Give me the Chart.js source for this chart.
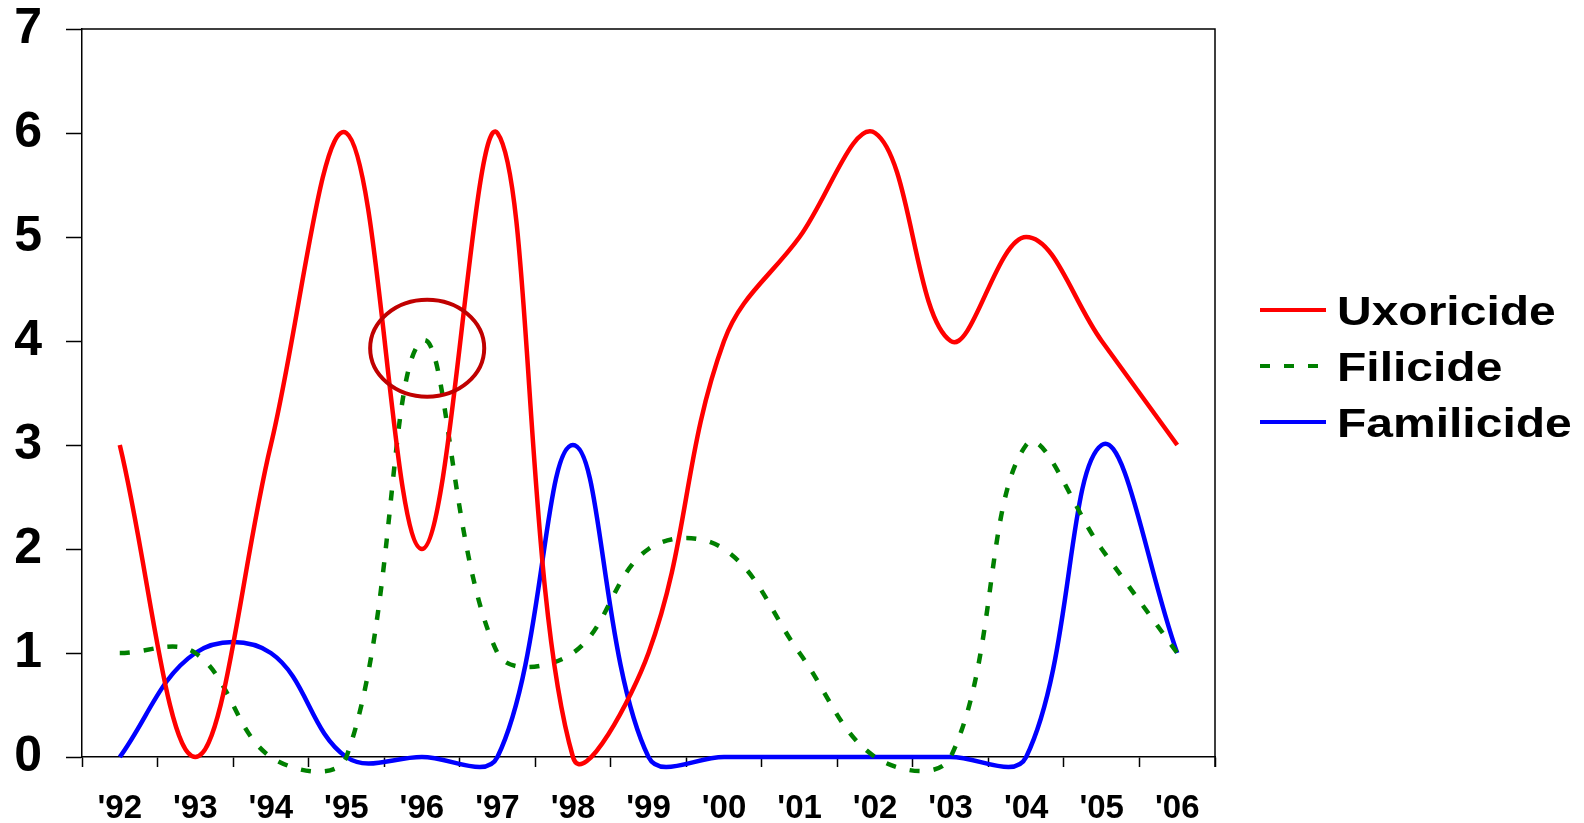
<!DOCTYPE html>
<html>
<head>
<meta charset="utf-8">
<script src="https://cdn.jsdelivr.net/npm/chart.js@4.4.0/dist/chart.umd.min.js"></script>
<style>
  html, body { margin: 0; padding: 0; background: #ffffff; }
  #wrap { width: 1584px; height: 823px; position: relative; }
</style>
</head>
<body>
<div id="wrap"><canvas id="c" width="1584" height="823"></canvas></div>
<script>
// ---- data ----
const years = ["'92", "'93", "'94", "'95", "'96", "'97", "'98", "'99", "'00", "'01", "'02", "'03", "'04", "'05", "'06"];
const uxoricide  = [3, 0, 3, 6, 2, 6, 0, 1, 4, 5, 6, 4, 5, 4, 3];
const filicide   = [1, 1, 0, 0, 4, 1, 1, 2, 2, 1, 0, 0, 3, 2, 1];
const familicide = [0, 1, 1, 0, 0, 0, 3, 0, 0, 0, 0, 0, 0, 3, 1];
const seriesNames = ["Uxoricide", "Filicide", "Familicide"];
const yTicks = [0, 1, 2, 3, 4, 5, 6, 7];
// highlighted region (category index, value) and its radii in data units
const highlight = { x: 4.07, y: 3.93, rx: 0.755, ry: 0.466 };

const FONT = "'Liberation Sans', Arial, sans-serif";

const frameAndLegend = {
  id: 'frameAndLegend',
  afterDatasetsDraw(chart) {
    const ctx = chart.ctx;
    const a = chart.chartArea;
    ctx.save();
    // plot frame (top & right)
    ctx.strokeStyle = '#000';
    ctx.lineWidth = 1.5;
    ctx.beginPath();
    ctx.moveTo(a.left, a.top);
    ctx.lineTo(a.right, a.top);
    ctx.lineTo(a.right, a.bottom + 10);
    ctx.stroke();
    // highlight ellipse
    const xs = chart.scales.x, ys = chart.scales.y;
    const cx = xs.getPixelForValue(highlight.x);
    const cy = ys.getPixelForValue(highlight.y);
    const rx = Math.abs(xs.getPixelForValue(highlight.x + highlight.rx) - cx);
    const ry = Math.abs(ys.getPixelForValue(highlight.y + highlight.ry) - cy);
    ctx.strokeStyle = '#c00000';
    ctx.lineWidth = 4;
    ctx.beginPath();
    ctx.ellipse(cx, cy, rx, ry, 0, 0, Math.PI * 2);
    ctx.stroke();
    // legend
    const lx0 = 1260, lx1 = 1326, tx = 1337;
    const rows = [310, 366, 422];
    const sx = 1.2;
    chart.data.datasets.forEach((ds, i) => {
      const y = rows[i];
      ctx.strokeStyle = ds.borderColor;
      ctx.lineWidth = 4;
      ctx.setLineDash(ds.borderDash || []);
      ctx.beginPath();
      ctx.moveTo(lx0, y);
      ctx.lineTo(lx1, y);
      ctx.stroke();
      ctx.setLineDash([]);
      ctx.save();
      ctx.scale(sx, 1);
      ctx.fillStyle = '#000';
      ctx.font = "bold 40px " + FONT;
      ctx.textBaseline = 'alphabetic';
      ctx.textAlign = 'left';
      ctx.fillText(ds.label, tx / sx, y + 15);
      ctx.restore();
    });
    ctx.restore();
  }
};

new Chart(document.getElementById('c'), {
  type: 'line',
  data: {
    labels: years,
    datasets: [
      { label: seriesNames[0], data: uxoricide, borderColor: '#ff0000', borderWidth: 4.5 },
      { label: seriesNames[1], data: filicide, borderColor: '#008000', borderWidth: 4.5, borderDash: [10, 14] },
      { label: seriesNames[2], data: familicide, borderColor: '#0000ff', borderWidth: 4.5 }
    ]
  },
  options: {
    responsive: false,
    animation: false,
    devicePixelRatio: 1,
    layout: { padding: { left: 0, top: 29, right: 369, bottom: 0 } },
    elements: {
      line: { tension: 0.38, capBezierPoints: false, fill: false, borderCapStyle: 'butt' },
      point: { radius: 0, hoverRadius: 0 }
    },
    datasets: { line: { clip: false } },
    plugins: { legend: { display: false }, tooltip: { enabled: false } },
    scales: {
      x: {
        offset: true,
        grid: { offset: true, drawOnChartArea: false, tickLength: 10, tickColor: '#000', tickWidth: 1.5 },
        border: { display: true, color: '#000', width: 1.5 },
        ticks: { color: '#000', font: { family: FONT, size: 33, weight: 'bold' }, padding: 22, maxRotation: 0, autoSkip: false },
        afterFit(s) { s.height = 66; s.paddingLeft = 0; s.paddingRight = 0; }
      },
      y: {
        min: 0, max: 7,
        afterBuildTicks(s) { s.ticks = yTicks.map(v => ({ value: v })); },
        grid: { drawOnChartArea: false, tickLength: 16, tickColor: '#000', tickWidth: 1.5 },
        border: { display: true, color: '#000', width: 1.5 },
        ticks: { color: '#000', font: { family: FONT, size: 50, weight: 'bold' }, padding: 24 },
        afterFit(s) { s.width = 82; s.paddingTop = 0; s.paddingBottom = 0; }
      }
    }
  },
  plugins: [frameAndLegend]
});
</script>
</body>
</html>
